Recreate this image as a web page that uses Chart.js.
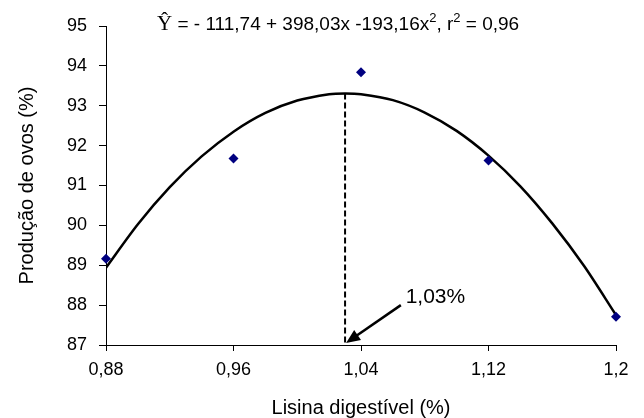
<!DOCTYPE html>
<html>
<head>
<meta charset="utf-8">
<script src="https://cdn.jsdelivr.net/npm/chart.js@4.4.0/dist/chart.umd.min.js"></script>
<style>
html, body { margin: 0; padding: 0; background: #fff; }
#wrap { width: 644px; height: 418px; }
</style>
</head>
<body>
<div id="wrap"><canvas id="grafico"></canvas></div>
<script>
// pontos observados
var lisina = [0.88, 0.96, 1.04, 1.12, 1.2];
var producao = [89.16, 91.68, 93.84, 91.63, 87.71];

// curva ajustada
var curvaX = [0.88, 0.90, 0.92, 0.94, 0.96, 0.98, 1.00, 1.02, 1.03, 1.04, 1.06, 1.08, 1.10, 1.12, 1.14, 1.16, 1.18, 1.2];
var curvaY = [88.94, 90.03, 90.96, 91.73, 92.35, 92.82, 93.13, 93.29, 93.31, 93.29, 93.14, 92.83, 92.37, 91.75, 90.98, 90.05, 88.98, 87.75];

var xTicks = [0.88, 0.96, 1.04, 1.12, 1.2];
var xTickLabels = ['0,88', '0,96', '1,04', '1,12', '1,2'];

var otimoX = 1.03;
var otimoY = 93.31;
var rotuloOtimo = '1,03%';

var fonte = '"Liberation Sans", Arial, sans-serif';

var anotacoes = {
    id: 'anotacoes',
    afterDatasetsDraw: function (chart) {
        var ctx = chart.ctx;
        var sx = chart.scales.x, sy = chart.scales.y;

        // seta
        var x0 = sx.getPixelForValue(1.065), y0 = sy.getPixelForValue(88.0);
        var x1 = sx.getPixelForValue(otimoX) + 1, y1 = sy.getPixelForValue(87) - 2;
        var ang = Math.atan2(y1 - y0, x1 - x0);
        ctx.save();
        ctx.strokeStyle = '#000';
        ctx.fillStyle = '#000';
        ctx.lineWidth = 2.5;
        ctx.beginPath();
        ctx.moveTo(x0, y0);
        ctx.lineTo(x1 - Math.cos(ang) * 10, y1 - Math.sin(ang) * 10);
        ctx.stroke();
        ctx.beginPath();
        ctx.moveTo(x1, y1);
        ctx.lineTo(x1 - Math.cos(ang) * 14 + Math.sin(ang) * 6, y1 - Math.sin(ang) * 14 - Math.cos(ang) * 6);
        ctx.lineTo(x1 - Math.cos(ang) * 14 - Math.sin(ang) * 6, y1 - Math.sin(ang) * 14 + Math.cos(ang) * 6);
        ctx.closePath();
        ctx.fill();

        // rótulo do ótimo
        ctx.font = '21px ' + fonte;
        ctx.textBaseline = 'alphabetic';
        ctx.textAlign = 'left';
        ctx.fillText(rotuloOtimo, sx.getPixelForValue(1.068), sy.getPixelForValue(88.05));

        // equação
        var x = 157, base = 30;
        var partes = [
            ['Ŷ', '21px "Liberation Serif", serif', 0],
            [' = - 111,74 + 398,03x -193,16x', '19px ' + fonte, 0],
            ['2', '13px ' + fonte, -8],
            [', r', '19px ' + fonte, 0],
            ['2', '13px ' + fonte, -8],
            [' = 0,96', '19px ' + fonte, 0]
        ];
        partes.forEach(function (p) {
            ctx.font = p[1];
            ctx.fillText(p[0], x, base + p[2]);
            x += ctx.measureText(p[0]).width;
        });
        ctx.restore();
    }
};

new Chart(document.getElementById('grafico'), {
    type: 'scatter',
    data: {
        datasets: [{
            label: 'Observado',
            data: lisina.map(function (v, i) { return { x: v, y: producao[i] }; }),
            pointStyle: 'rectRot',
            pointRadius: 5,
            backgroundColor: '#000080',
            borderColor: '#000080',
            borderWidth: 0,
            clip: false
        }, {
            label: 'Ajustado',
            type: 'line',
            data: curvaX.map(function (v, i) { return { x: v, y: curvaY[i] }; }),
            borderColor: '#000',
            borderWidth: 2.5,
            pointRadius: 0,
            tension: 0.3,
            fill: false
        }, {
            label: 'Ótimo',
            type: 'line',
            data: [{ x: otimoX, y: otimoY }, { x: otimoX, y: 87 }],
            borderColor: '#000',
            borderWidth: 2,
            borderDash: [6, 3],
            pointRadius: 0,
            fill: false
        }]
    },
    options: {
        responsive: true,
        maintainAspectRatio: false,
        animation: false,
        layout: { padding: { left: 0, right: 28, top: 26, bottom: 0 } },
        plugins: {
            legend: { display: false },
            tooltip: { enabled: false }
        },
        scales: {
            x: {
                type: 'linear',
                min: 0.88,
                max: 1.2,
                afterBuildTicks: function (axis) {
                    axis.ticks = xTicks.map(function (v) { return { value: v }; });
                },
                afterFit: function (axis) { axis.height = 73; },
                grid: { display: true, drawOnChartArea: false, drawTicks: true, tickLength: 6, color: '#000', lineWidth: 1 },
                border: { display: true, color: '#000', width: 1 },
                ticks: {
                    color: '#000',
                    padding: 8,
                    maxRotation: 0,
                    font: { family: fonte, size: 18 },
                    callback: function (v) { return xTickLabels[xTicks.indexOf(v)]; }
                },
                title: {
                    display: true,
                    text: 'Lisina digestível (%)',
                    color: '#000',
                    padding: 0,
                    font: { family: fonte, size: 20, lineHeight: 1 }
                }
            },
            y: {
                min: 87,
                max: 95,
                afterFit: function (axis) { axis.width = 106; },
                grid: { display: true, drawOnChartArea: false, drawTicks: true, tickLength: 7, color: '#000', lineWidth: 1 },
                border: { display: true, color: '#000', width: 1 },
                ticks: {
                    stepSize: 1,
                    color: '#000',
                    padding: 12,
                    font: { family: fonte, size: 18 }
                },
                title: {
                    display: true,
                    text: 'Produção de ovos (%)',
                    color: '#000',
                    padding: { top: 15, bottom: 0 },
                    font: { family: fonte, size: 20, lineHeight: 1.2 }
                }
            }
        }
    },
    plugins: [anotacoes]
});
</script>
</body>
</html>
